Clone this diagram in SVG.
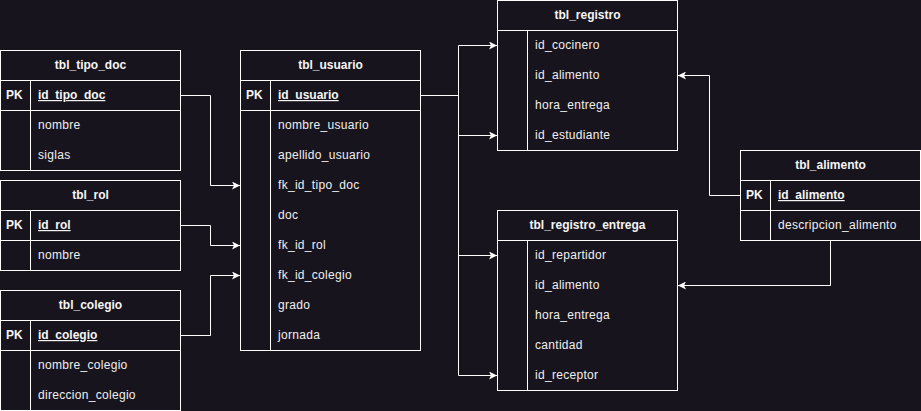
<svg xmlns="http://www.w3.org/2000/svg" width="921" height="411" viewBox="0 0 921 411">
<defs>
<style>
.bg{fill:#18141d}
.box{fill:#18141d;stroke:#ffffff;stroke-width:1}
.ln{stroke:#ffffff;stroke-width:1;fill:none}
.h{font-family:"Liberation Sans",Arial,sans-serif;font-size:12px;font-weight:bold;fill:#f5f5f5;text-anchor:middle}
.t{font-family:"Liberation Sans",Arial,sans-serif;font-size:12px;fill:#f0f0f0;letter-spacing:0.3px}
.pk{font-family:"Liberation Sans",Arial,sans-serif;font-size:12px;font-weight:bold;fill:#f5f5f5}
.u{text-decoration:underline}
.c{stroke:#ffffff;stroke-width:1;fill:none;marker-end:url(#arr)}
</style>
<marker id="arr" viewBox="0 0 8 8" refX="8" refY="4" markerWidth="8" markerHeight="8" markerUnits="userSpaceOnUse" orient="auto">
<path d="M0,0 L8,4 L0,8 L2,4 Z" fill="#ffffff"/>
</marker>
</defs>
<rect class="bg" x="0" y="0" width="921" height="411"/>

<g id="connectors">
<path class="c" d="M180.5,95.5 H210.5 V185.5 H240"/>
<path class="c" d="M180.5,225.5 H210.5 V245.5 H240"/>
<path class="c" d="M180.5,335.5 H210.5 V275.5 H240"/>
<path class="c" d="M420.5,95.5 H458.5 V45.5 H497"/>
<path class="c" d="M420.5,95.5 H458.5 V135.5 H497"/>
<path class="c" d="M420.5,95.5 H458.5 V255.5 H497"/>
<path class="c" d="M420.5,95.5 H458.5 V375.5 H497"/>
<path class="c" d="M740.5,195.5 H709.5 V75.5 H678"/>
<path class="c" d="M830.5,240.5 V285.5 H678"/>
</g>

<g id="tbl_tipo_doc">
<rect class="box" x="0.5" y="50.5" width="180" height="120"/>
<path class="ln" d="M0.5,80.5 H180.5 M0.5,110.5 H180.5 M30.5,80.5 V170.5"/>
<text class="h" x="90.5" y="69">tbl_tipo_doc</text>
<text class="pk" x="6" y="99">PK</text>
<text class="pk u" x="38" y="99">id_tipo_doc</text>
<text class="t" x="38" y="129">nombre</text>
<text class="t" x="38" y="159">siglas</text>
</g>

<g id="tbl_rol">
<rect class="box" x="0.5" y="180.5" width="180" height="90"/>
<path class="ln" d="M0.5,210.5 H180.5 M0.5,240.5 H180.5 M30.5,210.5 V270.5"/>
<text class="h" x="90.5" y="199">tbl_rol</text>
<text class="pk" x="6" y="229">PK</text>
<text class="pk u" x="38" y="229">id_rol</text>
<text class="t" x="38" y="259">nombre</text>
</g>

<g id="tbl_colegio">
<rect class="box" x="0.5" y="290.5" width="180" height="120"/>
<path class="ln" d="M0.5,320.5 H180.5 M0.5,350.5 H180.5 M30.5,320.5 V410.5"/>
<text class="h" x="90.5" y="309">tbl_colegio</text>
<text class="pk" x="6" y="339">PK</text>
<text class="pk u" x="38" y="339">id_colegio</text>
<text class="t" x="38" y="369">nombre_colegio</text>
<text class="t" x="38" y="399">direccion_colegio</text>
</g>

<g id="tbl_usuario">
<rect class="box" x="240.5" y="50.5" width="180" height="300"/>
<path class="ln" d="M240.5,80.5 H420.5 M240.5,110.5 H420.5 M270.5,80.5 V350.5"/>
<text class="h" x="330.5" y="69">tbl_usuario</text>
<text class="pk" x="246" y="99">PK</text>
<text class="pk u" x="278" y="99">id_usuario</text>
<text class="t" x="278" y="129">nombre_usuario</text>
<text class="t" x="278" y="159">apellido_usuario</text>
<text class="t" x="278" y="189">fk_id_tipo_doc</text>
<text class="t" x="278" y="219">doc</text>
<text class="t" x="278" y="249">fk_id_rol</text>
<text class="t" x="278" y="279">fk_id_colegio</text>
<text class="t" x="278" y="309">grado</text>
<text class="t" x="278" y="339">jornada</text>
</g>

<g id="tbl_registro">
<rect class="box" x="497.5" y="0.5" width="180" height="150"/>
<path class="ln" d="M497.5,30.5 H677.5 M527.5,30.5 V150.5"/>
<text class="h" x="587.5" y="19">tbl_registro</text>
<text class="t" x="535" y="49">id_cocinero</text>
<text class="t" x="535" y="79">id_alimento</text>
<text class="t" x="535" y="109">hora_entrega</text>
<text class="t" x="535" y="139">id_estudiante</text>
</g>

<g id="tbl_registro_entrega">
<rect class="box" x="497.5" y="210.5" width="180" height="180"/>
<path class="ln" d="M497.5,240.5 H677.5 M527.5,240.5 V390.5"/>
<text class="h" x="587.5" y="229">tbl_registro_entrega</text>
<text class="t" x="535" y="259">id_repartidor</text>
<text class="t" x="535" y="289">id_alimento</text>
<text class="t" x="535" y="319">hora_entrega</text>
<text class="t" x="535" y="349">cantidad</text>
<text class="t" x="535" y="379">id_receptor</text>
</g>

<g id="tbl_alimento">
<rect class="box" x="740.5" y="150.5" width="180" height="90"/>
<path class="ln" d="M740.5,180.5 H920.5 M740.5,210.5 H920.5 M770.5,180.5 V240.5"/>
<text class="h" x="830.5" y="169">tbl_alimento</text>
<text class="pk" x="746" y="199">PK</text>
<text class="pk u" x="778" y="199">id_alimento</text>
<text class="t" x="778" y="229">descripcion_alimento</text>
</g>
</svg>
